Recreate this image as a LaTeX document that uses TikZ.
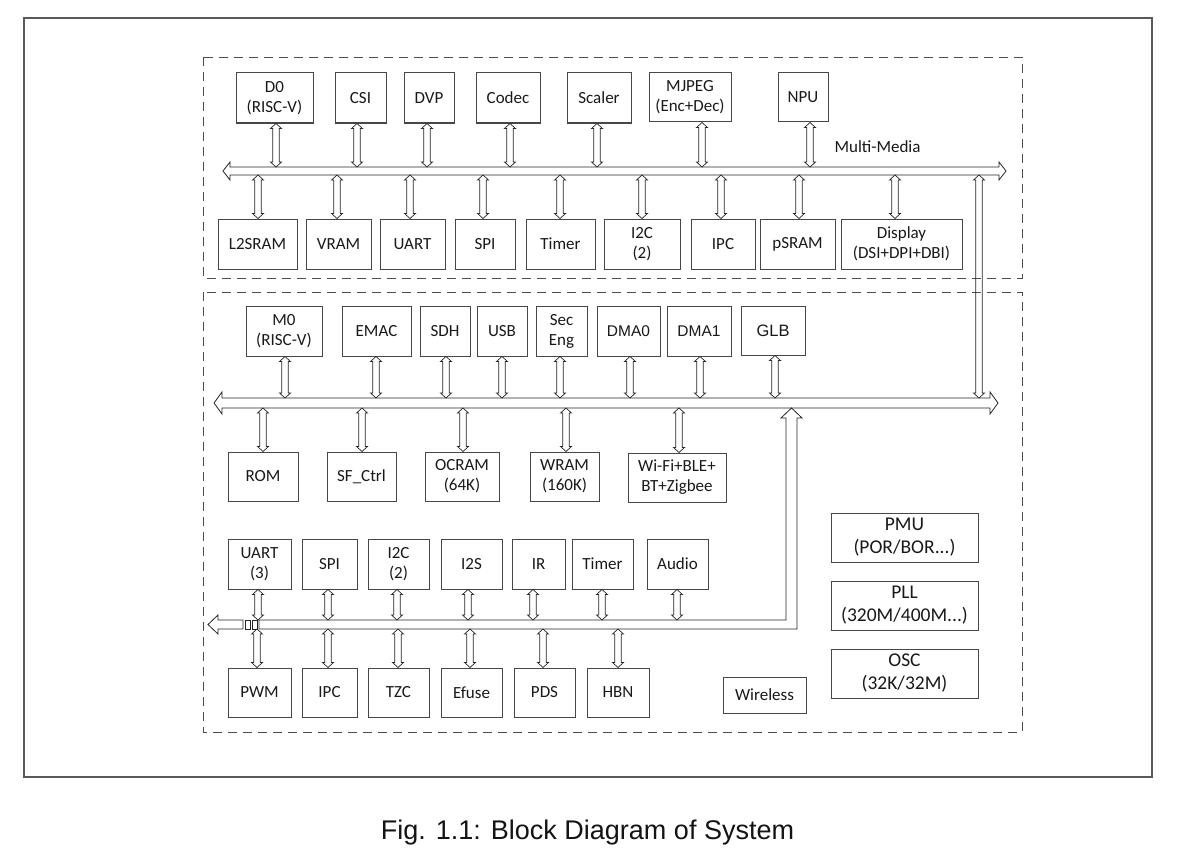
\documentclass[tikz,border=0pt]{standalone}
\usepackage{fontspec}
\setmainfont{Carlito}
\newfontfamily\arialf{Liberation Sans}
\usetikzlibrary{calc}
\newcommand\mkbox[7][]{\node[box,#1,minimum width={(#5-#3)*1pt},minimum height={(#6-#4)*1pt}] (#2) at ({(#3+#5)/2},{(#4+#6)/2}) {#7};}
\newcommand\vcon[3]{\draw[vdbl] (#2 -| #1,0) to (#3 -| #1,0);}
\begin{document}
\begin{tikzpicture}[x=1pt,y=-1pt,
  box/.style={draw=black!72, line width=1pt, align=center, inner sep=0pt, text=black!90, font=\fontsize{17}{20}\selectfont},
  abox/.style={font=\arialf\fontsize{15.5}{18}\selectfont},
  bigbox/.style={font=\fontsize{19.5}{23}\selectfont},
  dashbox/.style={draw=black!70, line width=0.9pt, dash pattern=on 9pt off 6pt},
  frame/.style={draw=black!65, line width=1.2pt},
  busline/.style={draw=black!85, line width=0.8pt},
  vdbl/.style={draw=black!85, line width=0.7pt, to path={let \p1=(\tikztostart), \p2=(\tikztotarget) in
    (\x1,\y1) -- (\x1+5.5pt,\y1-5pt) -- (\x1+3.2pt,\y1-5pt) -- (\x1+3.2pt,\y2+5pt) -- (\x1+5.5pt,\y2+5pt) -- (\x1,\y2)
    -- (\x1-5.5pt,\y2+5pt) -- (\x1-3.2pt,\y2+5pt) -- (\x1-3.2pt,\y1-5pt) -- (\x1-5.5pt,\y1-5pt) -- cycle}},
  hdbl/.style n args={3}{to path={let \p1=(\tikztostart), \p2=(\tikztotarget) in
    (\x1,\y1) -- (\x1+#3,\y1+#2) -- (\x1+#3,\y1+#1) -- (\x2-#3,\y1+#1) -- (\x2-#3,\y1+#2) -- (\x2,\y1)
    -- (\x2-#3,\y1-#2) -- (\x2-#3,\y1-#1) -- (\x1+#3,\y1-#1) -- (\x1+#3,\y1-#2) -- cycle}},
  busnode/.style={draw=none, inner sep=0pt, outer sep=0pt}
]
\useasboundingbox (0,0) rectangle (1182,856);
\fill[white] (0,0) rectangle (1182,856);

% frames
\draw[frame] (24,18) rectangle (1152,777);
\draw[dashbox] (203,57) rectangle (1022,278);
\draw[dashbox] (203,292) rectangle (1022,732);

% ---------- Multi-media section ----------
\mkbox{d0}{236}{73}{313}{123}{D0\\(RISC-V)}
\mkbox{csi}{335}{73}{386}{123}{CSI}
\mkbox{dvp}{404}{73}{454}{123}{DVP}
\mkbox{codec}{476}{73}{540}{123}{Codec}
\mkbox{scaler}{567}{73}{631}{123}{Scaler}
\mkbox{mjpeg}{649}{73}{731}{122}{MJPEG\\(Enc+Dec)}
\mkbox{npu}{778}{73}{828}{122}{NPU}
\node[anchor=west, font=\fontsize{17}{20}\selectfont, text=black!90] (mm) at (831,147) {Multi-Media};

\node[busnode, minimum width=783pt, minimum height=8pt] (tbus) at (614.5,171) {};
\draw[busline, hdbl={4pt}{9pt}{7pt}] (tbus.west) to (tbus.east);

\mkbox{l2sram}{218}{219}{297}{269}{L2SRAM}
\mkbox{vram}{306}{219}{371}{269}{VRAM}
\mkbox{uart}{380}{219}{445}{269}{UART}
\mkbox{spi}{455}{219}{515}{269}{SPI}
\mkbox{timer}{526}{219}{595}{269}{Timer}
\mkbox{itc}{604}{219}{680}{269}{I2C\\(2)}
\mkbox{ipc}{691}{219}{755}{269}{IPC}
\mkbox{psram}{760}{219}{835}{269}{pSRAM}
\mkbox{display}{841}{219}{962}{269}{Display\\(DSI+DPI+DBI)}

\vcon{276}{d0.south}{tbus.north}
\vcon{357}{csi.south}{tbus.north}
\vcon{427}{dvp.south}{tbus.north}
\vcon{510}{codec.south}{tbus.north}
\vcon{597}{scaler.south}{tbus.north}
\vcon{702}{mjpeg.south}{tbus.north}
\vcon{810}{npu.south}{tbus.north}

\vcon{258}{tbus.south}{l2sram.north}
\vcon{337}{tbus.south}{vram.north}
\vcon{410}{tbus.south}{uart.north}
\vcon{483}{tbus.south}{spi.north}
\vcon{560}{tbus.south}{timer.north}
\vcon{642}{tbus.south}{itc.north}
\vcon{721}{tbus.south}{ipc.north}
\vcon{799}{tbus.south}{psram.north}
\vcon{895}{tbus.south}{display.north}

% ---------- Main section ----------
\mkbox{m0}{246}{306}{322}{356}{M0\\(RISC-V)}
\mkbox{emac}{342}{306}{411}{356}{EMAC}
\mkbox{sdh}{420}{306}{470}{356}{SDH}
\mkbox{usb}{477}{306}{527}{356}{USB}
\mkbox{seceng}{536}{306}{587}{356}{Sec\\Eng}
\mkbox[abox]{dmaa}{597}{306}{660}{356}{DMA0}
\mkbox[abox]{dmab}{667}{306}{731}{356}{DMA1}
\mkbox[font=\arialf\fontsize{16.5}{19}\selectfont]{glb}{741}{306}{805}{355}{GLB}

\node[busnode, minimum width=784pt, minimum height=10pt] (lbus) at (606,403) {};
\draw[busline, hdbl={5pt}{11pt}{8pt}] (lbus.west) to (lbus.east);

\mkbox{rom}{228}{452}{298}{501}{ROM}
\mkbox{sfctrl}{327}{452}{396}{501}{SF\_Ctrl}
\mkbox{ocram}{425}{452}{499}{501}{OCRAM\\(64K)}
\mkbox{wram}{530}{452}{599}{501}{WRAM\\(160K)}
\mkbox{wifi}{628}{453}{726}{502}{Wi-Fi+BLE+\\BT+Zigbee}

\vcon{285}{m0.south}{lbus.north}
\vcon{376}{emac.south}{lbus.north}
\vcon{446}{sdh.south}{lbus.north}
\vcon{502}{usb.south}{lbus.north}
\vcon{560}{seceng.south}{lbus.north}
\vcon{630}{dmaa.south}{lbus.north}
\vcon{700}{dmab.south}{lbus.north}
\vcon{775}{glb.south}{lbus.north}

\vcon{263}{lbus.south}{rom.north}
\vcon{362}{lbus.south}{sfctrl.north}
\vcon{463}{lbus.south}{ocram.north}
\vcon{566}{lbus.south}{wram.north}
\vcon{679}{lbus.south}{wifi.north}

% link between the two buses
\vcon{979}{tbus.south}{lbus.north}

% ---------- Peripheral bus ----------
\mkbox{uartc}{228}{539}{291}{589}{UART\\(3)}
\mkbox{spib}{302}{539}{357}{589}{SPI}
\mkbox{itcb}{368}{539}{429}{589}{I2C\\(2)}
\mkbox{its}{441}{539}{502}{589}{I2S}
\mkbox{ir}{512}{539}{565}{589}{IR}
\mkbox{timerb}{572}{539}{633}{589}{Timer}
\mkbox{audio}{647}{539}{708}{589}{Audio}

\node[busnode, minimum width=538pt, minimum height=9pt] (bbus) at (528,624.5) {};
\draw[busline] (bbus.north west) -- (786,620) -- (786,418) -- (781,418) -- (lbus.south -| 791.5,0)
  -- (802,418) -- (797,418) -- (bbus.south east) -- (bbus.south west) -- cycle;
\draw[busline] (243,620) -- (218,620) -- (218,615) -- (208,624.5) -- (218,634) -- (218,629) -- (243,629) -- cycle;
\draw[busline] (245,620) rectangle (250,629);
\draw[busline] (252,620) rectangle (257,629);

\mkbox{pwm}{228}{668}{291}{717}{PWM}
\mkbox{ipcb}{302}{668}{357}{717}{IPC}
\mkbox{tzc}{368}{668}{429}{717}{TZC}
\mkbox{efuse}{441}{668}{502}{717}{Efuse}
\mkbox{pds}{514}{668}{575}{717}{PDS}
\mkbox{hbn}{587}{668}{649}{717}{HBN}

\vcon{258}{uartc.south}{bbus.north}
\vcon{328}{spib.south}{bbus.north}
\vcon{397}{itcb.south}{bbus.north}
\vcon{468}{its.south}{bbus.north}
\vcon{533}{ir.south}{bbus.north}
\vcon{602}{timerb.south}{bbus.north}
\vcon{677}{audio.south}{bbus.north}

\vcon{257}{bbus.south}{pwm.north}
\vcon{328}{bbus.south}{ipcb.north}
\vcon{398}{bbus.south}{tzc.north}
\vcon{470}{bbus.south}{efuse.north}
\vcon{543}{bbus.south}{pds.north}
\vcon{618}{bbus.south}{hbn.north}

\mkbox{wireless}{723}{677}{806}{713}{Wireless}
\mkbox[bigbox]{pmu}{831}{513}{978}{562}{PMU\\(POR/BOR...)}
\mkbox[bigbox]{pll}{831}{581}{978}{630}{PLL\\(320M/400M...)}
\mkbox[bigbox]{osc}{831}{649}{978}{698}{OSC\\(32K/32M)}

% caption
\node[anchor=base, font=\arialf\fontsize{27}{30}\selectfont, text=black!92] (cap) at (587.5,839) {Fig. 1.1: Block Diagram of System};
\end{tikzpicture}
\end{document}
